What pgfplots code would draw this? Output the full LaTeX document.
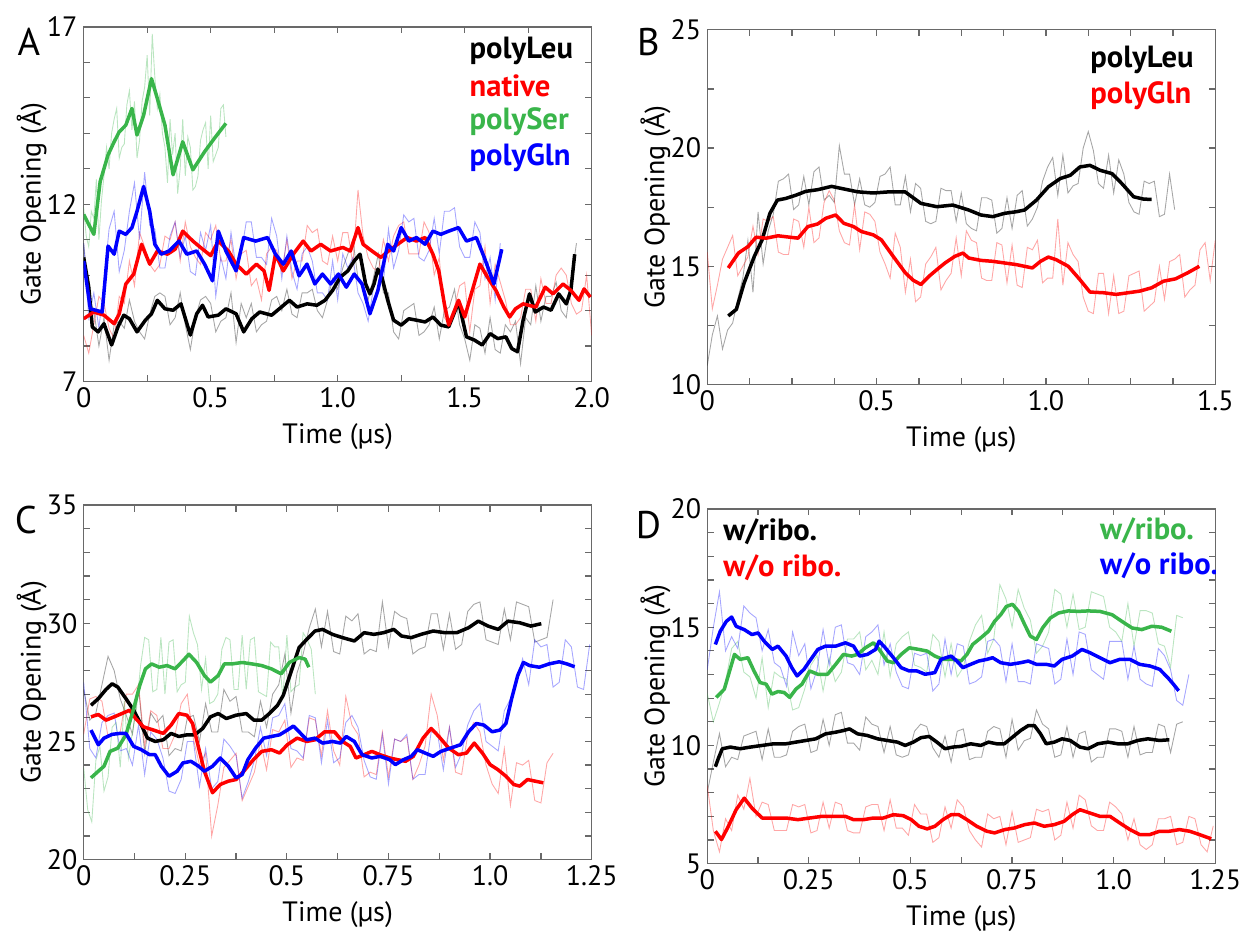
\documentclass[border=0pt]{standalone}
\usepackage{pgfplots}
\pgfplotsset{compat=1.18}
\usepackage{fontspec}
\setmainfont{PT Sans}
\definecolor{cgreen}{RGB}{57,181,74}
\definecolor{cred}{RGB}{255,0,0}
\definecolor{cblue}{RGB}{0,0,255}
\definecolor{frame}{RGB}{105,105,105}
\tikzset{leg/.style={font=\fontsize{17.5}{20}\selectfont\bfseries, anchor=west, inner sep=0pt}}
\pgfplotsset{
  panel/.style={
    scale only axis, anchor=south west,
    width=10.2cm, height=7.12cm,
    axis line style={frame, line width=0.7pt},
    every tick/.style={frame, line width=0.7pt},
    major tick length=0.13cm, minor tick length=0.13cm,
    tick align=inside, tick pos=both,
    /pgf/number format/assume math mode=true,
    ticklabel style={font=\fontsize{16}{19}\selectfont, text=black},
    label style={font=\fontsize{16}{19}\selectfont},
    xlabel={Time (µs)}, ylabel={Gate Opening (Å)},
    xlabel style={at={(axis description cs:0.5,-0.155)}, anchor=center},
    ylabel style={at={(axis description cs:-0.102,0.5)}, anchor=center},
  },
  raw/.style={line width=0.5pt, opacity=0.35},
  sm/.style={line width=2pt, line join=round},
}
\begin{document}
\begin{tikzpicture}
\path (0,0) rectangle (24.94cm,18.78cm);
\node[font=\fontsize{22}{26}\selectfont] at (0.58cm,17.94cm) {A};
\node[font=\fontsize{22}{26}\selectfont] at (13.02cm,17.94cm) {B};
\node[font=\fontsize{22}{26}\selectfont] at (0.52cm,8.34cm) {C};
\node[font=\fontsize{22}{26}\selectfont] at (13.02cm,8.24cm) {D};

% ---------------- Panel A ----------------
\begin{axis}[panel, at={(1.68cm,11.12cm)},
  xmin=0, xmax=2, ymin=7, ymax=17,
  xtick={0,0.5,1,1.5,2}, xticklabels={0,0.5,1.0,1.5,2.0},
  minor xtick={0.25,0.75,1.25,1.75},
  ytick={7,12,17}, minor ytick={8,9,10,11,13,14,15,16}]
\addplot[raw,black] table[row sep=\\,header=false,x expr=\coordindex*0.02,y index=0]{
10.9\\9.4\\9.0\\8.0\\8.8\\7.6\\8.6\\8.7\\8.5\\9.3\\
8.7\\8.4\\8.2\\8.9\\9.4\\9.5\\9.4\\8.6\\8.8\\9.5\\
8.6\\7.9\\8.8\\9.3\\9.4\\9.2\\8.4\\8.7\\8.8\\9.5\\
8.1\\9.2\\8.8\\9.2\\8.4\\8.6\\8.7\\9.3\\9.4\\9.0\\
9.6\\8.9\\8.8\\9.5\\9.5\\9.6\\9.0\\8.8\\9.3\\9.9\\
9.6\\10.2\\10.6\\11.0\\9.9\\9.7\\9.3\\9.9\\10.6\\9.5\\
9.5\\8.4\\8.2\\9.0\\9.1\\9.2\\8.3\\8.4\\8.6\\9.1\\
8.2\\9.0\\9.1\\9.6\\8.6\\8.2\\7.6\\8.6\\8.5\\7.8\\
8.8\\7.9\\7.8\\8.6\\8.4\\8.7\\7.5\\8.8\\8.6\\9.7\\
8.7\\9.4\\9.4\\9.8\\9.0\\8.8\\9.9\\10.9\\};
\addplot[raw,cred] table[row sep=\\,header=false,x expr=\coordindex*0.02,y index=0]{
8.3\\7.8\\8.6\\9.4\\9.2\\8.5\\8.2\\9.4\\9.2\\10.4\\
9.7\\11.2\\10.8\\10.3\\10.1\\10.3\\11.1\\11.0\\11.5\\10.4\\
11.5\\10.8\\10.5\\10.3\\11.2\\11.0\\11.4\\10.4\\10.4\\11.0\\
9.9\\10.6\\10.7\\9.7\\9.9\\9.3\\10.6\\10.8\\10.7\\10.1\\
11.0\\9.9\\10.4\\10.4\\11.4\\11.2\\11.3\\10.4\\10.3\\11.1\\
10.4\\11.2\\11.2\\10.3\\12.4\\11.1\\10.5\\10.2\\10.1\\11.0\\
10.4\\11.1\\11.4\\11.5\\10.6\\10.6\\10.6\\11.5\\11.2\\10.0\\
10.5\\8.8\\8.6\\9.1\\9.7\\9.8\\8.4\\9.6\\9.7\\10.8\\
9.2\\10.3\\9.8\\9.3\\8.6\\8.6\\8.8\\9.6\\9.6\\8.7\\
9.9\\9.2\\9.2\\10.0\\10.2\\10.0\\9.2\\8.9\\9.0\\10.0\\8.3\\};
\addplot[raw,cgreen] table[row sep=\\,header=false,x expr=\coordindex*0.01,y index=0]{
11.9\\11.1\\10.8\\11.8\\11.6\\12.7\\11.0\\12.1\\12.8\\13.6\\
13.0\\14.0\\14.4\\14.7\\13.3\\13.6\\13.7\\14.8\\15.2\\14.1\\
14.9\\13.3\\13.8\\14.9\\15.3\\16.2\\14.5\\16.8\\15.6\\14.7\\
15.1\\14.0\\13.6\\12.6\\14.4\\13.4\\14.0\\12.3\\13.0\\14.4\\
12.8\\13.9\\13.6\\12.4\\12.5\\12.8\\13.8\\14.1\\14.3\\13.0\\
14.5\\13.2\\13.4\\13.6\\14.7\\14.8\\13.9\\};
\addplot[raw,cblue] table[row sep=\\,header=false,x expr=\coordindex*0.02,y index=0]{
10.9\\8.8\\9.5\\8.5\\9.8\\11.3\\11.8\\10.1\\10.7\\11.8\\
12.6\\11.0\\12.9\\11.4\\11.3\\10.2\\10.2\\11.1\\11.5\\10.5\\
11.1\\10.1\\10.0\\11.2\\10.7\\11.4\\9.4\\10.5\\9.9\\11.2\\
10.2\\10.6\\11.5\\11.5\\10.5\\10.5\\10.3\\11.6\\11.1\\9.9\\
11.1\\10.1\\9.6\\10.6\\10.8\\10.4\\9.5\\9.5\\9.3\\10.4\\
9.3\\10.6\\10.2\\10.5\\9.5\\9.2\\8.7\\9.6\\10.1\\9.8\\
11.3\\10.2\\10.7\\11.7\\11.5\\11.6\\10.5\\10.4\\10.7\\11.6\\
10.6\\11.8\\11.8\\11.9\\10.8\\10.5\\10.5\\11.5\\11.2\\9.9\\
10.5\\9.3\\10.9\\};
\addplot[sm,black] coordinates {(0,10.50)(0.02,9.66)(0.034,8.54)(0.057,8.40)(0.08,8.63)(0.11,8.03)(0.135,8.54)(0.158,8.87)(0.18,8.77)(0.21,8.40)(0.243,8.73)(0.267,8.91)(0.29,9.29)(0.32,9.05)(0.352,9.01)(0.383,9.19)(0.42,8.31)(0.445,8.91)(0.468,9.15)(0.49,8.82)(0.53,8.87)(0.56,9.05)(0.6,8.91)(0.63,8.40)(0.662,8.77)(0.693,8.96)(0.74,8.87)(0.77,9.05)(0.81,9.29)(0.84,9.10)(0.88,9.19)(0.918,9.15)(0.95,9.29)(0.98,9.57)(1.01,9.94)(1.04,10.12)(1.065,10.40)(1.088,10.59)(1.11,9.75)(1.127,9.47)(1.143,9.75)(1.158,10.17)(1.174,9.94)(1.197,9.29)(1.22,8.73)(1.25,8.59)(1.28,8.77)(1.31,8.73)(1.344,8.68)(1.375,8.82)(1.406,8.59)(1.437,8.54)(1.476,9.24)(1.507,8.26)(1.538,8.17)(1.569,8.03)(1.6,8.35)(1.63,8.21)(1.662,8.26)(1.685,7.93)(1.708,7.84)(1.73,8.73)(1.755,9.47)(1.778,8.96)(1.81,9.10)(1.84,9.01)(1.87,9.47)(1.9,9.19)(1.918,9.57)(1.933,10.59)};
\addplot[sm,cred] coordinates {(0,8.77)(0.04,8.96)(0.08,8.87)(0.12,8.63)(0.14,8.91)(0.166,9.75)(0.197,10.03)(0.228,10.87)(0.26,10.31)(0.29,10.68)(0.33,10.59)(0.36,10.73)(0.39,11.24)(0.43,10.96)(0.46,10.78)(0.5,10.55)(0.53,10.96)(0.57,10.68)(0.6,10.31)(0.64,10.03)(0.68,10.31)(0.71,10.12)(0.73,9.57)(0.755,10.59)(0.786,10.12)(0.825,10.59)(0.864,10.96)(0.895,10.68)(0.933,10.87)(0.972,10.68)(1.02,10.78)(1.05,10.68)(1.08,11.34)(1.10,10.87)(1.135,10.68)(1.17,10.50)(1.2,10.68)(1.236,10.87)(1.274,11.06)(1.31,10.96)(1.344,11.06)(1.375,10.59)(1.398,10.12)(1.42,9.19)(1.437,8.59)(1.476,9.29)(1.5,8.82)(1.53,9.57)(1.56,10.31)(1.59,9.94)(1.623,9.57)(1.654,9.10)(1.677,8.82)(1.7,9.05)(1.73,9.19)(1.78,9.10)(1.817,9.66)(1.848,9.47)(1.887,9.75)(1.918,9.57)(1.95,9.29)(1.97,9.61)(1.995,9.38)};
\addplot[sm,cgreen] coordinates {(0,11.71)(0.04,11.15)(0.065,12.64)(0.096,13.39)(0.12,13.76)(0.14,14.04)(0.166,14.23)(0.19,14.70)(0.21,13.95)(0.236,14.51)(0.267,15.54)(0.29,14.98)(0.32,14.23)(0.352,12.83)(0.39,13.76)(0.43,12.97)(0.476,13.48)(0.515,13.86)(0.56,14.28)};
\addplot[sm,cblue] coordinates {(0,10.40)(0.026,9.05)(0.073,8.96)(0.096,10.82)(0.12,10.59)(0.14,11.24)(0.166,11.15)(0.19,11.34)(0.21,11.80)(0.236,12.50)(0.26,11.8)(0.28,10.87)(0.305,10.59)(0.336,10.68)(0.375,10.96)(0.406,10.59)(0.445,10.68)(0.476,10.31)(0.507,9.84)(0.53,11.24)(0.56,10.68)(0.6,10.12)(0.63,11.06)(0.677,10.96)(0.724,11.06)(0.755,10.59)(0.786,10.31)(0.817,10.68)(0.848,9.98)(0.879,10.31)(0.91,9.75)(0.94,10.03)(0.972,9.75)(1.003,10.03)(1.034,9.66)(1.065,10.03)(1.096,9.75)(1.127,8.91)(1.158,9.56)(1.197,10.87)(1.22,10.68)(1.25,11.34)(1.28,10.96)(1.31,11.06)(1.344,10.87)(1.375,11.24)(1.406,11.15)(1.437,11.24)(1.476,11.34)(1.507,10.96)(1.546,11.06)(1.577,10.50)(1.615,9.75)(1.646,10.73)};
\node[leg,text=black] at (axis cs:1.518,16.33) {polyLeu};
\node[leg,text=cred] at (axis cs:1.518,15.33) {native};
\node[leg,text=cgreen] at (axis cs:1.518,14.32) {polySer};
\node[leg,text=cblue] at (axis cs:1.518,13.32) {polyGln};
\end{axis}

% ---------------- Panel B ----------------
\begin{axis}[panel, at={(14.2cm,11.06cm)},
  xmin=0, xmax=1.5, ymin=10, ymax=25,
  xtick={0,0.5,1,1.5}, xticklabels={0,0.5,1.0,1.5},
  minor xtick={0.125,0.25,0.375,0.625,0.75,0.875,1.125,1.25,1.375},
  ytick={10,15,20,25}, minor ytick={12.5,17.5,22.5}]
\addplot[raw,black] table[row sep=\\,header=false,x expr=\coordindex*0.015,y index=0]{
10.8\\12.1\\12.9\\11.5\\12.3\\12.6\\13.6\\14.5\\16.1\\13.9\\
17.3\\15.1\\16.5\\17.2\\18.6\\18.7\\18.9\\17.4\\17.6\\18.8\\
17.6\\19.0\\19.2\\17.8\\18.0\\17.7\\20.1\\18.9\\18.9\\17.6\\
18.7\\17.6\\17.5\\17.7\\18.8\\18.9\\19.2\\17.6\\17.6\\18.8\\
17.3\\18.5\\18.3\\16.9\\16.8\\16.9\\18.3\\18.2\\18.2\\16.9\\
18.1\\16.8\\16.6\\16.5\\17.9\\17.9\\17.8\\16.4\\16.6\\17.9\\
16.6\\18.0\\18.2\\16.7\\17.0\\17.5\\18.6\\19.2\\19.6\\18.0\\
19.7\\18.1\\18.4\\18.5\\20.0\\20.7\\19.9\\18.5\\18.3\\19.7\\
18.1\\19.5\\18.9\\17.7\\17.3\\17.2\\18.6\\18.5\\18.6\\17.1\\
17.2\\18.9\\17.4\\};
\addplot[raw,cred] table[row sep=\\,header=false,x expr=\coordindex*0.015,y index=0]{
15.6\\13.2\\14.2\\15.3\\15.8\\16.3\\14.6\\15.0\\15.4\\16.7\\
15.5\\17.0\\16.9\\17.1\\15.6\\15.5\\15.5\\17.0\\16.9\\15.8\\
17.5\\16.0\\16.2\\17.7\\18.2\\17.8\\16.5\\16.0\\15.9\\17.6\\
15.7\\17.3\\17.2\\16.9\\15.6\\15.1\\14.5\\16.4\\15.8\\13.9\\
15.3\\13.5\\13.7\\15.1\\15.4\\15.8\\14.0\\14.4\\14.7\\16.2\\
14.6\\16.5\\16.1\\16.0\\14.5\\14.4\\14.4\\16.0\\15.9\\14.3\\
15.9\\14.2\\14.1\\15.8\\15.7\\16.1\\14.3\\14.5\\14.5\\17.0\\
14.2\\16.0\\15.5\\15.2\\13.7\\13.1\\13.0\\14.7\\14.7\\13.0\\
14.6\\13.0\\13.1\\14.6\\14.7\\14.8\\13.1\\13.3\\13.5\\15.0\\
13.6\\15.2\\15.3\\15.5\\13.7\\14.0\\14.2\\15.7\\16.0\\14.4\\16.1\\};
\addplot[sm,black] coordinates {(0.062,12.90)(0.086,13.18)(0.109,14.3)(0.139,15.42)(0.162,16.12)(0.185,17.24)(0.207,17.80)(0.232,17.87)(0.262,18.01)(0.291,18.17)(0.326,18.24)(0.367,18.38)(0.397,18.29)(0.444,18.15)(0.49,18.10)(0.538,18.15)(0.584,18.15)(0.631,17.66)(0.678,17.52)(0.725,17.59)(0.772,17.38)(0.808,17.17)(0.843,17.10)(0.878,17.24)(0.913,17.31)(0.937,17.38)(0.972,17.80)(1.007,18.36)(1.042,18.71)(1.072,18.85)(1.10,19.20)(1.13,19.27)(1.16,19.06)(1.195,18.92)(1.224,18.50)(1.259,17.94)(1.289,17.84)(1.312,17.83)};
\addplot[sm,cred] coordinates {(0.062,14.93)(0.092,15.56)(0.121,15.84)(0.144,16.23)(0.174,16.19)(0.209,16.29)(0.244,16.23)(0.268,16.19)(0.297,16.68)(0.326,16.79)(0.35,17.03)(0.379,17.17)(0.403,16.82)(0.432,16.68)(0.455,16.47)(0.49,16.33)(0.514,16.12)(0.549,15.42)(0.585,14.72)(0.608,14.41)(0.631,14.23)(0.655,14.58)(0.678,14.86)(0.702,15.14)(0.731,15.42)(0.755,15.56)(0.772,15.35)(0.808,15.25)(0.843,15.21)(0.878,15.14)(0.913,15.07)(0.96,14.93)(0.984,15.21)(1.007,15.39)(1.03,15.28)(1.066,15.0)(1.10,14.44)(1.13,13.91)(1.171,13.88)(1.207,13.81)(1.242,13.88)(1.277,13.95)(1.312,14.09)(1.347,14.37)(1.383,14.47)(1.418,14.72)(1.453,15.0)};
\node[leg,text=black] at (axis cs:1.13,23.74) {polyLeu};
\node[leg,text=cred] at (axis cs:1.13,22.23) {polyGln};
\end{axis}

% ---------------- Panel C ----------------
\begin{axis}[panel, at={(1.68cm,1.52cm)},
  xmin=0, xmax=1.25, ymin=20, ymax=35,
  xtick={0,0.25,0.5,0.75,1,1.25}, xticklabels={0,0.25,0.5,0.75,1.0,1.25},
  minor xtick={0.125,0.375,0.625,0.875,1.125},
  ytick={20,25,30,35}, minor ytick={21,22,23,24,26,27,28,29,31,32,33,34}]
\addplot[raw,black] table[row sep=\\,header=false,x expr=\coordindex*0.015,y index=0]{
27.2\\25.9\\26.2\\27.4\\28.6\\28.0\\26.8\\26.1\\25.3\\27.3\\
24.5\\26.2\\25.8\\26.1\\24.4\\24.7\\24.6\\26.0\\26.1\\25.0\\
26.6\\25.4\\25.4\\27.2\\26.7\\26.9\\25.4\\25.4\\25.2\\26.7\\
25.6\\27.0\\27.4\\28.7\\26.2\\27.9\\28.7\\29.8\\30.6\\29.0\\
30.5\\28.8\\28.7\\30.3\\30.1\\30.4\\28.7\\28.9\\28.8\\30.9\\
29.0\\30.5\\30.3\\30.2\\28.7\\28.9\\29.0\\30.4\\30.4\\28.9\\
30.4\\28.9\\29.1\\30.5\\30.8\\30.9\\29.3\\29.2\\29.1\\30.6\\
29.3\\30.9\\30.8\\30.7\\29.2\\29.3\\29.4\\31.0\\};
\addplot[raw,cred] table[row sep=\\,header=false,x expr=\coordindex*0.015,y index=0]{
25.3\\26.8\\26.9\\26.7\\25.2\\25.3\\25.4\\27.0\\27.0\\27.4\\
24.8\\26.3\\26.1\\24.7\\24.7\\25.3\\26.6\\27.0\\25.1\\24.0\\
24.5\\21.0\\22.3\\23.9\\24.2\\24.5\\22.5\\23.1\\23.7\\25.0\\
23.8\\25.5\\25.4\\25.9\\23.9\\24.3\\24.2\\26.0\\25.9\\24.4\\
26.3\\24.6\\24.0\\26.9\\25.7\\25.3\\23.5\\23.7\\23.6\\25.4\\
23.5\\25.1\\25.0\\25.2\\23.4\\24.0\\24.8\\27.0\\26.1\\24.2\\
25.6\\23.7\\23.6\\25.3\\25.8\\25.4\\24.0\\23.2\\22.8\\24.7\\
22.3\\24.1\\24.0\\24.2\\22.5\\22.4\\24.1\\24.5\\};
\addplot[raw,cgreen] table[row sep=\\,header=false,x expr=\coordindex*0.01,y index=0]{
23.9\\22.1\\21.6\\24.2\\24.8\\22.9\\23.5\\25.6\\25.8\\23.9\\
26.7\\24.3\\25.4\\26.4\\28.2\\29.4\\29.3\\27.1\\27.2\\29.4\\
27.0\\29.2\\29.3\\27.1\\27.4\\27.5\\30.3\\29.6\\29.1\\27.2\\
28.5\\26.6\\26.7\\27.0\\28.9\\29.4\\29.3\\27.2\\27.2\\29.5\\
27.2\\29.3\\29.4\\27.1\\27.0\\26.9\\29.2\\29.0\\29.0\\26.8\\
29.5\\27.1\\27.3\\27.4\\29.6\\29.3\\28.9\\27.0\\};
\addplot[raw,cblue] table[row sep=\\,header=false,x expr=\coordindex*0.015,y index=0]{
27.5\\24.7\\24.3\\25.8\\26.1\\26.2\\24.6\\24.7\\24.0\\25.7\\
23.6\\25.4\\25.1\\24.3\\22.9\\22.8\\23.4\\25.0\\25.0\\23.1\\
24.7\\23.0\\23.3\\25.1\\24.8\\24.4\\22.6\\23.3\\24.2\\25.6\\
24.4\\26.0\\26.1\\26.6\\24.7\\24.6\\24.3\\26.1\\26.0\\24.1\\
25.9\\24.1\\24.3\\25.8\\26.1\\25.6\\24.2\\23.5\\23.4\\25.3\\
23.2\\25.1\\25.0\\25.3\\23.4\\23.6\\23.6\\25.4\\25.4\\23.8\\
25.6\\23.9\\24.5\\25.7\\26.3\\26.6\\25.0\\24.8\\24.6\\26.3\\
26.8\\27.5\\28.5\\27.4\\29.3\\29.0\\29.1\\27.3\\27.5\\29.3\\
29.0\\27.3\\27.2\\29.1\\};
\addplot[sm,black] coordinates {(0.018,26.53)(0.036,26.81)(0.055,27.2)(0.07,27.44)(0.084,27.30)(0.104,26.81)(0.123,26.32)(0.142,25.69)(0.157,25.14)(0.176,25.0)(0.196,25.07)(0.215,25.34)(0.234,25.21)(0.254,25.28)(0.273,25.28)(0.293,25.55)(0.312,26.04)(0.331,26.18)(0.351,25.97)(0.375,26.11)(0.4,26.18)(0.419,25.90)(0.438,25.90)(0.457,26.18)(0.477,26.53)(0.491,26.95)(0.51,27.93)(0.53,28.97)(0.549,29.32)(0.569,29.67)(0.588,29.74)(0.612,29.53)(0.637,29.39)(0.666,29.25)(0.69,29.60)(0.714,29.53)(0.738,29.60)(0.763,29.74)(0.782,29.46)(0.806,29.39)(0.83,29.53)(0.86,29.67)(0.889,29.60)(0.918,29.60)(0.947,29.81)(0.971,30.09)(0.995,29.88)(1.02,29.74)(1.044,30.09)(1.073,30.02)(1.10,29.88)(1.126,29.98)};
\addplot[sm,cred] coordinates {(0.018,26.04)(0.036,26.14)(0.055,25.90)(0.075,26.04)(0.094,26.18)(0.113,26.32)(0.128,25.97)(0.147,25.62)(0.172,25.48)(0.196,25.34)(0.215,25.69)(0.234,26.18)(0.254,26.11)(0.268,25.76)(0.283,24.72)(0.297,23.74)(0.317,22.83)(0.336,23.18)(0.356,23.32)(0.375,23.39)(0.394,23.74)(0.414,24.16)(0.438,24.58)(0.462,24.65)(0.482,24.51)(0.501,24.86)(0.525,25.14)(0.549,25.0)(0.569,25.07)(0.593,25.41)(0.617,25.41)(0.637,25.0)(0.656,24.79)(0.67,24.30)(0.69,24.44)(0.709,24.58)(0.729,24.44)(0.753,24.30)(0.772,24.23)(0.792,24.16)(0.811,24.37)(0.835,25.14)(0.855,25.55)(0.874,25.21)(0.898,24.72)(0.922,24.44)(0.942,24.51)(0.961,24.93)(0.981,24.51)(1.0,24.02)(1.019,23.81)(1.039,23.53)(1.058,23.18)(1.073,23.11)(1.092,23.39)(1.111,23.32)(1.131,23.25)};
\addplot[sm,cgreen] coordinates {(0.018,23.46)(0.036,23.74)(0.05,23.95)(0.065,24.58)(0.084,24.72)(0.104,25.28)(0.123,26.39)(0.138,27.37)(0.152,28.07)(0.167,28.28)(0.186,28.14)(0.205,28.21)(0.225,28.07)(0.244,28.41)(0.259,28.69)(0.278,28.34)(0.297,27.79)(0.312,27.51)(0.331,27.79)(0.346,28.28)(0.365,28.28)(0.39,28.34)(0.414,28.28)(0.438,28.21)(0.462,28.07)(0.486,27.86)(0.506,28.34)(0.53,28.55)(0.545,28.48)(0.554,28.14)};
\addplot[sm,cblue] coordinates {(0.018,25.48)(0.036,24.86)(0.05,25.14)(0.07,25.30)(0.089,25.34)(0.104,25.34)(0.123,24.79)(0.142,24.65)(0.162,24.44)(0.176,24.44)(0.191,23.95)(0.21,23.53)(0.23,23.74)(0.244,24.09)(0.264,24.16)(0.283,23.95)(0.297,23.74)(0.317,23.95)(0.336,24.30)(0.356,23.95)(0.375,23.46)(0.39,23.60)(0.404,24.23)(0.423,24.72)(0.443,25.14)(0.462,25.21)(0.482,25.28)(0.501,25.48)(0.516,25.65)(0.53,25.41)(0.549,25.07)(0.569,25.14)(0.588,24.93)(0.612,25.0)(0.632,24.93)(0.646,25.21)(0.666,25.0)(0.685,24.44)(0.709,24.30)(0.729,24.37)(0.753,24.23)(0.767,24.02)(0.787,24.23)(0.806,24.37)(0.821,24.65)(0.84,24.51)(0.86,24.37)(0.879,24.58)(0.903,24.72)(0.927,24.86)(0.947,25.41)(0.966,25.76)(0.985,25.69)(1.005,25.41)(1.024,25.48)(1.039,25.76)(1.053,26.81)(1.068,27.79)(1.082,28.34)(1.097,28.21)(1.121,28.14)(1.145,28.28)(1.17,28.37)(1.189,28.28)(1.208,28.16)};
\end{axis}

% ---------------- Panel D ----------------
\begin{axis}[panel, at={(14.2cm,1.44cm)},
  xmin=0, xmax=1.25, ymin=5, ymax=20,
  xtick={0,0.25,0.5,0.75,1,1.25}, xticklabels={0,0.25,0.5,0.75,1.0,1.25},
  minor xtick={0.125,0.375,0.625,0.875,1.125},
  ytick={5,10,15,20}, minor ytick={6,7,8,9,11,12,13,14,16,17,18,19}]
\addplot[raw,black] table[row sep=\\,header=false,x expr=\coordindex*0.015,y index=0]{
8.0\\9.3\\10.5\\9.1\\9.5\\9.4\\10.4\\10.5\\10.6\\9.4\\
10.7\\9.5\\9.5\\9.6\\10.6\\10.8\\10.9\\9.7\\9.8\\11.1\\
10.0\\11.3\\11.4\\10.1\\10.1\\9.8\\11.2\\10.9\\10.8\\9.7\\
10.8\\9.6\\9.5\\9.6\\10.6\\10.9\\10.8\\9.9\\9.5\\10.4\\
9.3\\10.6\\10.7\\9.4\\9.5\\9.5\\10.6\\10.8\\10.7\\9.5\\
11.1\\9.8\\10.2\\10.3\\11.5\\10.9\\10.7\\9.5\\9.6\\10.8\\
9.5\\10.5\\10.6\\9.3\\9.5\\9.5\\10.7\\10.7\\10.6\\9.5\\
10.8\\9.6\\9.7\\9.7\\10.9\\10.8\\9.7\\10.9\\11.0\\};
\addplot[raw,cred] table[row sep=\\,header=false,x expr=\coordindex*0.015,y index=0]{
8.3\\6.4\\5.5\\6.9\\6.4\\7.9\\7.3\\8.6\\7.0\\7.6\\
7.5\\6.4\\6.4\\6.4\\7.5\\7.4\\7.5\\6.3\\6.4\\7.6\\
6.5\\7.6\\7.5\\6.4\\6.3\\6.3\\7.4\\7.5\\7.5\\6.4\\
7.7\\6.5\\6.5\\6.2\\7.5\\7.1\\7.1\\5.9\\6.1\\7.4\\
6.5\\7.7\\7.4\\6.4\\6.0\\5.7\\7.1\\6.9\\7.0\\5.8\\
7.2\\5.9\\6.0\\6.1\\7.3\\7.2\\7.3\\6.0\\6.2\\7.6\\
6.5\\7.9\\7.7\\6.6\\6.4\\6.4\\7.6\\7.4\\7.1\\6.0\\
6.9\\5.8\\5.6\\5.8\\6.9\\6.9\\7.0\\5.8\\5.9\\7.0\\
6.9\\5.8\\5.5\\6.6\\};
\addplot[raw,cgreen] table[row sep=\\,header=false,x expr=\coordindex*0.015,y index=0]{
12.2\\11.0\\11.8\\12.7\\14.1\\14.4\\13.1\\12.9\\12.0\\13.7\\
11.6\\13.1\\12.9\\12.8\\11.5\\11.6\\12.4\\13.4\\13.8\\12.3\\
13.7\\12.7\\13.1\\14.5\\14.5\\14.8\\13.2\\13.6\\13.0\\14.8\\
12.9\\14.3\\14.6\\14.8\\13.4\\13.3\\13.1\\14.7\\14.4\\12.9\\
14.3\\12.9\\13.3\\14.4\\15.1\\15.5\\13.9\\14.5\\16.8\\16.2\\
15.0\\16.6\\15.8\\15.3\\13.9\\14.2\\14.8\\16.6\\16.4\\15.0\\
16.4\\14.9\\15.0\\16.5\\16.4\\16.3\\15.0\\14.8\\14.4\\16.0\\
14.2\\15.7\\15.7\\15.6\\14.3\\14.2\\13.3\\15.5\\15.4\\};
\addplot[raw,cblue] table[row sep=\\,header=false,x expr=\coordindex*0.015,y index=0]{
13.2\\15.0\\16.5\\14.0\\14.6\\14.1\\15.9\\15.6\\15.4\\14.0\\
14.9\\13.5\\13.3\\12.5\\14.8\\13.8\\14.3\\12.4\\13.2\\14.9\\
13.4\\15.0\\15.1\\13.5\\13.4\\13.0\\14.6\\14.8\\15.1\\13.4\\
14.3\\13.1\\12.5\\12.4\\13.9\\13.8\\13.9\\12.3\\12.6\\14.5\\
13.0\\14.3\\14.2\\12.6\\12.7\\12.9\\14.4\\14.5\\14.2\\12.7\\
14.3\\12.7\\12.7\\12.6\\14.3\\14.2\\14.1\\12.6\\12.8\\14.5\\
13.0\\14.8\\14.7\\13.2\\13.0\\12.8\\14.4\\14.4\\14.4\\12.8\\
14.2\\12.8\\12.6\\12.5\\14.1\\13.8\\13.2\\11.9\\11.7\\13.0\\};
\addplot[sm,black] coordinates {(0.02,9.10)(0.027,9.44)(0.037,9.86)(0.057,9.93)(0.081,9.86)(0.106,9.93)(0.135,10.0)(0.164,10.07)(0.194,10.07)(0.218,10.14)(0.243,10.21)(0.267,10.28)(0.291,10.49)(0.316,10.56)(0.335,10.63)(0.35,10.70)(0.37,10.49)(0.394,10.42)(0.419,10.28)(0.443,10.21)(0.468,10.14)(0.487,10.0)(0.507,10.14)(0.526,10.33)(0.546,10.38)(0.565,10.14)(0.585,9.86)(0.604,9.93)(0.624,9.96)(0.648,10.07)(0.673,10.0)(0.692,10.14)(0.712,10.07)(0.731,10.07)(0.751,10.35)(0.771,10.63)(0.79,10.84)(0.805,10.84)(0.82,10.49)(0.834,10.07)(0.854,10.14)(0.873,10.28)(0.893,10.21)(0.917,9.93)(0.937,9.86)(0.961,10.07)(0.986,10.14)(1.01,10.07)(1.035,10.07)(1.059,10.21)(1.084,10.28)(1.113,10.21)(1.137,10.24)};
\addplot[sm,cred] coordinates {(0.02,6.37)(0.035,6.02)(0.052,6.58)(0.071,7.28)(0.091,7.77)(0.11,7.35)(0.135,6.93)(0.164,6.93)(0.194,6.93)(0.223,6.86)(0.252,6.93)(0.282,7.0)(0.311,7.0)(0.34,7.0)(0.36,6.86)(0.384,6.86)(0.409,6.93)(0.433,6.93)(0.458,7.07)(0.482,7.03)(0.502,6.86)(0.521,6.58)(0.541,6.47)(0.56,6.58)(0.58,6.86)(0.6,7.07)(0.619,7.07)(0.639,6.86)(0.663,6.58)(0.688,6.37)(0.707,6.30)(0.732,6.44)(0.756,6.51)(0.781,6.65)(0.805,6.72)(0.829,6.58)(0.854,6.65)(0.878,6.79)(0.898,7.07)(0.917,7.28)(0.942,7.14)(0.966,7.0)(0.991,7.0)(1.015,6.72)(1.04,6.44)(1.064,6.23)(1.089,6.23)(1.113,6.37)(1.137,6.37)(1.162,6.44)(1.187,6.37)(1.211,6.23)(1.24,6.05)};
\addplot[sm,cgreen] coordinates {(0.022,12.03)(0.042,12.38)(0.055,13.15)(0.067,13.85)(0.081,13.64)(0.1,13.71)(0.115,13.15)(0.13,12.66)(0.145,12.59)(0.159,12.17)(0.174,12.28)(0.189,12.24)(0.203,12.03)(0.218,12.38)(0.233,12.59)(0.252,13.15)(0.272,13.01)(0.296,13.01)(0.316,13.43)(0.335,13.85)(0.355,13.78)(0.37,13.85)(0.389,14.13)(0.409,14.34)(0.423,14.06)(0.443,13.57)(0.458,13.50)(0.477,13.85)(0.497,14.13)(0.521,14.06)(0.541,13.99)(0.56,13.78)(0.58,13.64)(0.604,13.64)(0.624,13.57)(0.639,13.85)(0.653,14.27)(0.673,14.55)(0.692,14.83)(0.707,15.25)(0.722,15.53)(0.736,15.88)(0.751,15.97)(0.766,15.67)(0.781,15.11)(0.795,14.62)(0.81,14.48)(0.825,14.97)(0.844,15.39)(0.864,15.60)(0.888,15.69)(0.913,15.67)(0.937,15.69)(0.966,15.67)(0.996,15.53)(1.02,15.25)(1.045,14.97)(1.069,14.90)(1.094,15.04)(1.118,15.0)(1.142,14.83)};
\addplot[sm,cblue] coordinates {(0.02,14.27)(0.032,14.83)(0.047,15.25)(0.06,15.43)(0.071,15.04)(0.091,14.90)(0.11,14.69)(0.125,14.76)(0.14,14.41)(0.16,14.06)(0.174,14.20)(0.194,13.78)(0.208,13.29)(0.221,12.94)(0.238,13.22)(0.252,13.57)(0.272,14.06)(0.291,14.20)(0.316,14.20)(0.34,14.34)(0.36,14.20)(0.375,13.78)(0.394,13.85)(0.414,14.06)(0.423,14.41)(0.438,14.13)(0.458,13.71)(0.477,13.29)(0.497,13.15)(0.516,13.15)(0.536,13.01)(0.56,13.08)(0.575,13.64)(0.6,13.78)(0.614,13.57)(0.629,13.29)(0.648,13.43)(0.668,13.57)(0.688,13.64)(0.702,13.71)(0.722,13.50)(0.746,13.43)(0.771,13.50)(0.79,13.57)(0.81,13.43)(0.834,13.43)(0.854,13.36)(0.873,13.64)(0.898,13.78)(0.922,14.06)(0.942,13.92)(0.966,13.71)(0.991,13.50)(1.015,13.64)(1.04,13.64)(1.064,13.43)(1.089,13.36)(1.113,13.22)(1.133,12.87)(1.147,12.59)(1.16,12.31)};
\node[leg,text=black] at (axis cs:0.039,19.02) {w/ribo.};
\node[leg,text=cred] at (axis cs:0.039,17.52) {w/o ribo.};
\node[leg,text=cgreen] at (axis cs:0.966,19.1) {w/ribo.};
\node[leg,text=cblue] at (axis cs:0.966,17.6) {w/o ribo.};
\end{axis}
\end{tikzpicture}
\end{document}
